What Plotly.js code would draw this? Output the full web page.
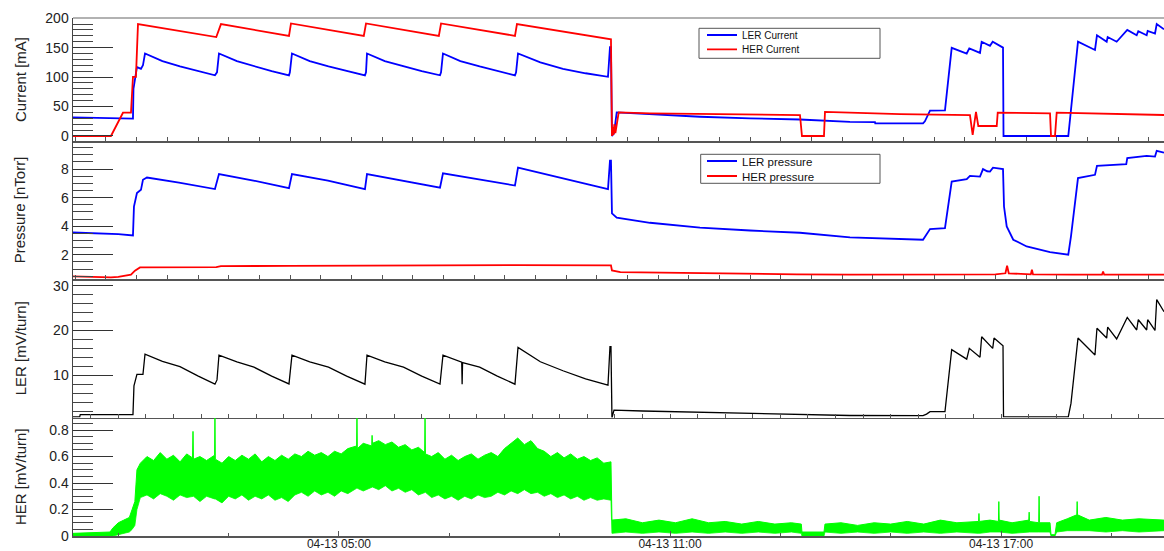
<!DOCTYPE html>
<html>
<head>
<meta charset="utf-8">
<script src="https://cdn.plot.ly/plotly-3.0.1.min.js"></script>
<style>
html,body{margin:0;padding:0;background:#fff;}
#chart{width:1164px;height:551px;}
</style>
</head>
<body>
<div id="chart"></div>
<script>
// ---------------- data (time = hours of day 04-13) ----------------
const lerCurT = [0.179,0.9,0.907,1.266,1.275,1.302,1.338,1.411,1.447,1.484,
1.8,2.118,2.45,2.752,2.789,2.825,3.15,3.46,3.78,4.094,
4.11,4.148,4.47,4.81,5.14,5.471,5.49,5.508,5.83,6.17,
6.5,6.831,6.85,6.885,7.2,7.55,7.87,8.19,8.21,8.245,
8.65,9.06,9.47,9.876,9.912,9.93,9.948,9.985,10.034,10.637,
11.543,12.45,13.356,14.262,14.715,14.72,15.586,15.62,15.713,15.984,
16.106,16.378,16.425,16.619,16.649,16.8,16.849,17.036,17.045,18.219,
18.395,18.703,18.739,18.915,18.933,19.096,19.288,19.459,19.488,19.64,
19.658,19.791,19.822,19.954];
const lerCurV = [31.5,30.5,29.5,29.5,80,100,117,114,120,140,
127,118,110,103,108,140,127,118,110,103,
108,140,127,118,110,103,108,140,127,118,
110,103,108,140,127,118,110,103,108,140,
125,114,106.5,100.5,151,151,0,5,40,37,
32.7,30,28,24,23.5,21.5,21.5,25,43,43.5,
149.7,140,148.6,141,160,153,160,150,0,0,
160,146,171,160,168,160,180,171,178,171,
178.5,174,190,181];

const herCurT = [0.179,0.867,1.085,1.23,1.266,1.32,1.357,2.776,2.861,4.094,
4.13,5.45,5.49,6.81,6.85,8.19,8.226,9.93,9.948,9.96,
9.975,9.99,10.01,10.03,10.07,10.637,12.0,13.356,13.392,13.791,
13.809,15.169,16.437,16.486,16.546,16.588,16.922,16.94,17.888,17.906,
17.978,18.009,19.954];
const herCurV = [0,0,39.5,39.5,100.5,100.5,190,168,190,170,
191,170,191,170,191,170,190,164,0,15,
2,20,5,18,40,38.4,37,35.6,0,0,
41,37,35.6,1.7,41,17,17,39.5,38.5,0,
0,39.5,35.6];

const lerPresT = [0.179,0.6,1.0,1.266,1.284,1.338,1.411,1.447,1.52,2.1,
2.752,2.825,3.45,4.094,4.148,4.8,5.471,5.508,6.15,6.831,
6.885,7.5,8.19,8.245,9.0,9.876,9.912,9.93,9.948,10.034,
10.637,11.543,12.45,13.356,14.262,15.169,15.586,15.713,15.984,16.106,
16.378,16.437,16.619,16.673,16.75,16.8,16.854,17.036,17.054,17.103,
17.222,17.465,17.888,18.219,18.268,18.395,18.703,18.739,19.27,19.288,
19.64,19.791,19.822,19.954];
const lerPresV = [3.56,3.5,3.45,3.35,5.38,6.32,6.55,7.25,7.41,7.05,
6.6,7.65,7.2,6.67,7.65,7.2,6.6,7.65,7.2,6.7,
7.7,7.3,6.85,8.1,7.4,6.6,8.6,8.6,4.9,4.6,
4.24,3.9,3.7,3.54,3.21,3.12,3.05,3.8,3.87,7.13,
7.3,7.53,7.48,8.0,7.85,7.83,8.1,8.0,5.38,3.98,
3.05,2.58,2.19,2.0,3.28,7.37,7.6,8.23,8.35,8.77,
8.93,8.88,9.28,9.16];

const herPresT = [0.179,0.867,1.0,1.23,1.302,1.393,2.776,2.86,4.1,5.5,
8.2,9.93,9.948,10.1,11.5,13.3,14.26,15.6,16.0,16.9,
17.08,17.11,17.14,17.3,17.54,17.56,17.58,18.3,18.83,18.85,
18.87,19.954];
const herPresV = [0.48,0.41,0.45,0.6,0.88,1.11,1.13,1.2,1.22,1.25,
1.27,1.25,0.9,0.78,0.7,0.63,0.6,0.6,0.65,0.62,
0.7,1.23,0.7,0.65,0.62,0.95,0.62,0.6,0.6,0.83,
0.6,0.6];

const lerVT = [0.179,0.3,0.31,1.266,1.284,1.338,1.447,1.484,1.8,2.118,
2.45,2.752,2.789,2.825,3.15,3.46,3.78,4.094,4.148,4.47,
4.81,5.14,5.471,5.508,5.83,6.17,6.5,6.831,6.885,7.2,
7.225,7.232,7.24,7.55,7.87,8.19,8.245,8.65,9.06,9.47,
9.876,9.912,9.93,9.948,9.985,10.5,11.5,12.5,13.3,14.26,
15.586,15.65,15.713,15.984,16.106,16.378,16.425,16.619,16.649,16.849,
16.873,17.036,17.045,18.219,18.268,18.395,18.703,18.739,18.915,18.933,
19.096,19.288,19.459,19.488,19.64,19.658,19.791,19.822,19.954];
const lerVV = [0.7,0.7,1.2,1.2,7.6,10.2,10.2,14.7,13.1,11.9,
9.8,8.0,8.95,14.5,13.0,11.8,9.8,8.05,14.5,13.0,
11.8,9.8,8.0,14.5,13.0,11.8,9.8,8.0,14.5,13.0,
12.9,8.0,12.8,11.8,9.8,8.0,16.2,13.0,11.0,9.2,
7.8,16.4,16.4,0.5,2.2,2.0,1.7,1.5,1.3,1.0,
0.95,1.3,1.85,1.85,15.7,13.6,16.0,14.0,18.6,16.0,
18.3,16.6,0.7,0.7,3.7,18.3,14.5,20.5,18.3,20.75,
18.1,22.9,20.1,22.4,20.1,22.4,20.0,26.9,24.2];

// HER [mV/turn]: lower and upper envelope of the noisy signal
const herVT = [0.179,0.5,0.85,0.9,1.0,1.1,1.2,1.25,1.3,1.338,
1.40,1.52,1.64,1.76,1.88,2.00,2.12,2.24,2.345,2.354,
2.363,2.48,2.60,2.745,2.752,2.759,2.88,3.00,3.12,3.24,
3.36,3.48,3.60,3.72,3.84,3.96,4.08,4.20,4.32,4.44,
4.56,4.68,4.80,4.92,5.04,5.16,5.319,5.326,5.333,5.44,
5.593,5.60,5.607,5.72,5.84,5.96,6.08,6.20,6.32,6.44,
6.553,6.56,6.567,6.68,6.80,6.92,7.04,7.16,7.28,7.40,
7.52,7.64,7.76,7.88,8.00,8.12,8.24,8.36,8.48,8.60,
8.72,8.84,8.96,9.08,9.20,9.32,9.44,9.56,9.68,9.80,
9.93,9.948,10.2,10.5,10.8,11.1,11.4,11.7,12.0,12.3,
12.6,12.9,13.2,13.38,13.392,13.791,13.809,14.1,14.4,14.7,
15.0,15.3,15.6,15.9,16.2,16.593,16.6,16.607,16.8,16.953,
16.96,16.967,17.2,17.503,17.51,17.517,17.683,17.69,17.697,17.888,
17.906,17.978,18.009,18.2,18.373,18.38,18.387,18.6,18.9,19.2,
19.5,19.954];
const herVLo = [0,0,0,0,0.01,0.02,0.03,0.05,0.08,0.2,
0.29,0.31,0.28,0.32,0.30,0.27,0.31,0.29,0.30,0.30,
0.30,0.26,0.30,0.28,0.28,0.28,0.25,0.30,0.28,0.31,
0.27,0.30,0.28,0.31,0.27,0.29,0.26,0.31,0.33,0.30,
0.34,0.31,0.33,0.30,0.34,0.32,0.36,0.36,0.36,0.34,
0.37,0.37,0.37,0.35,0.38,0.34,0.36,0.33,0.35,0.31,
0.33,0.33,0.33,0.29,0.31,0.28,0.30,0.27,0.30,0.28,
0.31,0.29,0.30,0.33,0.31,0.34,0.32,0.35,0.32,0.33,
0.30,0.32,0.29,0.31,0.28,0.30,0.27,0.29,0.27,0.28,
0.27,0.02,0.03,0.02,0.03,0.02,0.03,0.02,0.03,0.02,
0.03,0.02,0.03,0.02,0,0,0.03,0.02,0.03,0.02,
0.03,0.02,0.03,0.02,0.03,0.02,0.02,0.02,0.03,0.03,
0.03,0.03,0.02,0.03,0.03,0.03,0.03,0.03,0.03,0.03,
0,0,0.03,0.04,0.04,0.04,0.04,0.04,0.03,0.04,
0.03,0.04];
const herVHi = [0.02,0.025,0.03,0.06,0.10,0.12,0.14,0.20,0.26,0.50,
0.55,0.60,0.57,0.63,0.58,0.61,0.56,0.62,0.59,0.79,
0.58,0.60,0.57,0.61,0.89,0.58,0.55,0.60,0.57,0.61,
0.58,0.62,0.56,0.60,0.57,0.61,0.58,0.62,0.60,0.64,
0.61,0.63,0.60,0.64,0.62,0.66,0.68,0.89,0.66,0.70,
0.68,0.76,0.70,0.72,0.69,0.71,0.67,0.69,0.65,0.67,
0.63,0.89,0.62,0.60,0.63,0.58,0.61,0.57,0.60,0.62,
0.58,0.61,0.63,0.60,0.66,0.70,0.74,0.69,0.72,0.66,
0.64,0.60,0.63,0.59,0.62,0.58,0.60,0.57,0.59,0.55,
0.56,0.12,0.13,0.10,0.12,0.10,0.13,0.10,0.11,0.09,
0.11,0.09,0.10,0.09,0.03,0.03,0.09,0.10,0.08,0.10,
0.09,0.11,0.09,0.12,0.10,0.11,0.17,0.11,0.12,0.11,
0.26,0.12,0.10,0.12,0.18,0.11,0.10,0.30,0.10,0.10,
0.01,0.01,0.10,0.13,0.16,0.26,0.16,0.12,0.14,0.12,
0.13,0.12];

const seriesNames = ['LER Current','HER Current','LER pressure','HER pressure'];
const yTitles = ['Current [mA]','Pressure [nTorr]','LER [mV/turn]','HER [mV/turn]'];

// ---------------- helpers ----------------
const DAY = Date.UTC(2021,3,13);
function hd(h){ return new Date(DAY + h*3600000).toISOString().replace('T',' ').slice(0,23); }
const toDates = arr => arr.map(hd);

const W=1164, H=551, ML=73, MR=0, MT=18, MB=15;
const fx = px => (px-ML)/(W-ML-MR);
const fy = py => 1-(py-MT)/(H-MT-MB);
const FONT = 'Liberation Sans, Arial, Helvetica, sans-serif';
const BLUE='#0000ff', RED='#ff0000', GREEN='#00ff00';

const traces = [
  {x:toDates(lerCurT), y:lerCurV, xaxis:'x', yaxis:'y', mode:'lines', name:seriesNames[0],
   line:{color:BLUE,width:1.8}, legend:'legend'},
  {x:toDates(herCurT), y:herCurV, xaxis:'x', yaxis:'y', mode:'lines', name:seriesNames[1],
   line:{color:RED,width:1.8}, legend:'legend2'},
  {x:toDates(lerPresT), y:lerPresV, xaxis:'x2', yaxis:'y2', mode:'lines', name:seriesNames[2],
   line:{color:BLUE,width:1.8}, legend:'legend3'},
  {x:toDates(herPresT), y:herPresV, xaxis:'x2', yaxis:'y2', mode:'lines', name:seriesNames[3],
   line:{color:RED,width:1.8}, legend:'legend4'},
  {x:toDates(lerVT), y:lerVV, xaxis:'x3', yaxis:'y3', mode:'lines', showlegend:false,
   line:{color:'#000',width:1.3}},
  {x:toDates(herVT), y:herVLo, xaxis:'x4', yaxis:'y4', mode:'lines', showlegend:false,
   line:{color:GREEN,width:0.8}},
  {x:toDates(herVT), y:herVHi, xaxis:'x4', yaxis:'y4', mode:'lines', showlegend:false,
   fill:'tonexty', fillcolor:GREEN, line:{color:GREEN,width:1}}
];

const xr = [hd(0.179), hd(19.954)];
function xa(extra){
  return Object.assign({type:'date', range:xr, showline:true, linecolor:'#555', linewidth:1.5,
    showgrid:false, zeroline:false, ticks:'inside', ticklen:4, tickcolor:'#555',
    showticklabels:false, automargin:false}, extra);
}
function ya(extra){
  return Object.assign({showline:true, linecolor:'#444', linewidth:1.5, showgrid:false,
    zeroline:false, ticks:'inside', ticklen:40, tickcolor:'#333', tickwidth:1,
    tickfont:{family:FONT,size:14,color:'#222'}, automargin:false}, extra);
}
function leg(px,py,size){
  return {x:fx(px), y:fy(py), xanchor:'left', yanchor:'middle', bgcolor:'rgba(0,0,0,0)',
    borderwidth:0, itemwidth:30, font:{family:FONT,size:size,color:'#111'}};
}
function box(x0,y0,x1,y1){
  return {type:'rect', xref:'paper', yref:'paper', x0:fx(x0), x1:fx(x1), y0:fy(y0), y1:fy(y1),
    line:{color:'#555',width:1}, fillcolor:'rgba(0,0,0,0)'};
}
const titleFont = {family:FONT, size:15, color:'#222'};

const layout = {
  width:W, height:H, margin:{l:ML,r:MR,t:MT,b:MB}, paper_bgcolor:'#fff', plot_bgcolor:'#fff',
  font:{family:FONT}, hovermode:false,
  xaxis: xa({anchor:'y', tick0:hd(0.777), dtick:2001300}),
  xaxis2: xa({anchor:'y2', matches:'x', tick0:hd(0.777), dtick:2001300}),
  xaxis3: xa({anchor:'y3', matches:'x', tick0:hd(5), dtick:1800000}),
  xaxis4: xa({anchor:'y4', matches:'x', tick0:hd(5), dtick:21600000, ticklen:5,
    showticklabels:true, tickformat:'%m-%d %H:%M', ticklabelstandoff:-4,
    tickfont:{family:FONT,size:12,color:'#222'},
    minor:{dtick:7200000, tick0:hd(5), ticks:'inside', ticklen:3, tickcolor:'#555'}}),
  yaxis: ya({domain:[fy(141),1], range:[-8.5,200.3], tick0:0, dtick:50,
    minor:{dtick:10, ticks:'inside', ticklen:20, tickcolor:'#444'},
    title:{text:yTitles[0], font:titleFont, standoff:15}}),
  yaxis2: ya({domain:[fy(279),fy(141)], range:[0.3,9.97], tick0:0, dtick:2,
    minor:{dtick:0.5, ticks:'inside', ticklen:20, tickcolor:'#444'},
    title:{text:yTitles[1], font:titleFont, standoff:31}}),
  yaxis3: ya({domain:[fy(417.5),fy(279)], range:[0.55,31.5], tick0:0, dtick:10,
    minor:{dtick:2, ticks:'inside', ticklen:20, tickcolor:'#444'},
    title:{text:yTitles[2], font:titleFont, standoff:23}}),
  yaxis4: ya({domain:[0,fy(417.5)], range:[0,0.895], tick0:0, dtick:0.2,
    minor:{dtick:0.05, ticks:'inside', ticklen:20, tickcolor:'#444'},
    title:{text:yTitles[3], font:titleFont, standoff:19}}),
  legend: leg(702,35,10),
  legend2: leg(702,49.3,10),
  legend3: leg(702,161,11.5),
  legend4: leg(702,176,11.5),
  shapes:[
    {type:'line', xref:'paper', yref:'paper', x0:0, x1:1, y0:1, y1:1, line:{color:'#999',width:1.5}},
    box(699,28.3,880,58.3),
    box(700.7,154.3,880,183.3)
  ]
};

Plotly.newPlot('chart', traces, layout, {displayModeBar:false, staticPlot:true});
</script>
</body>
</html>
